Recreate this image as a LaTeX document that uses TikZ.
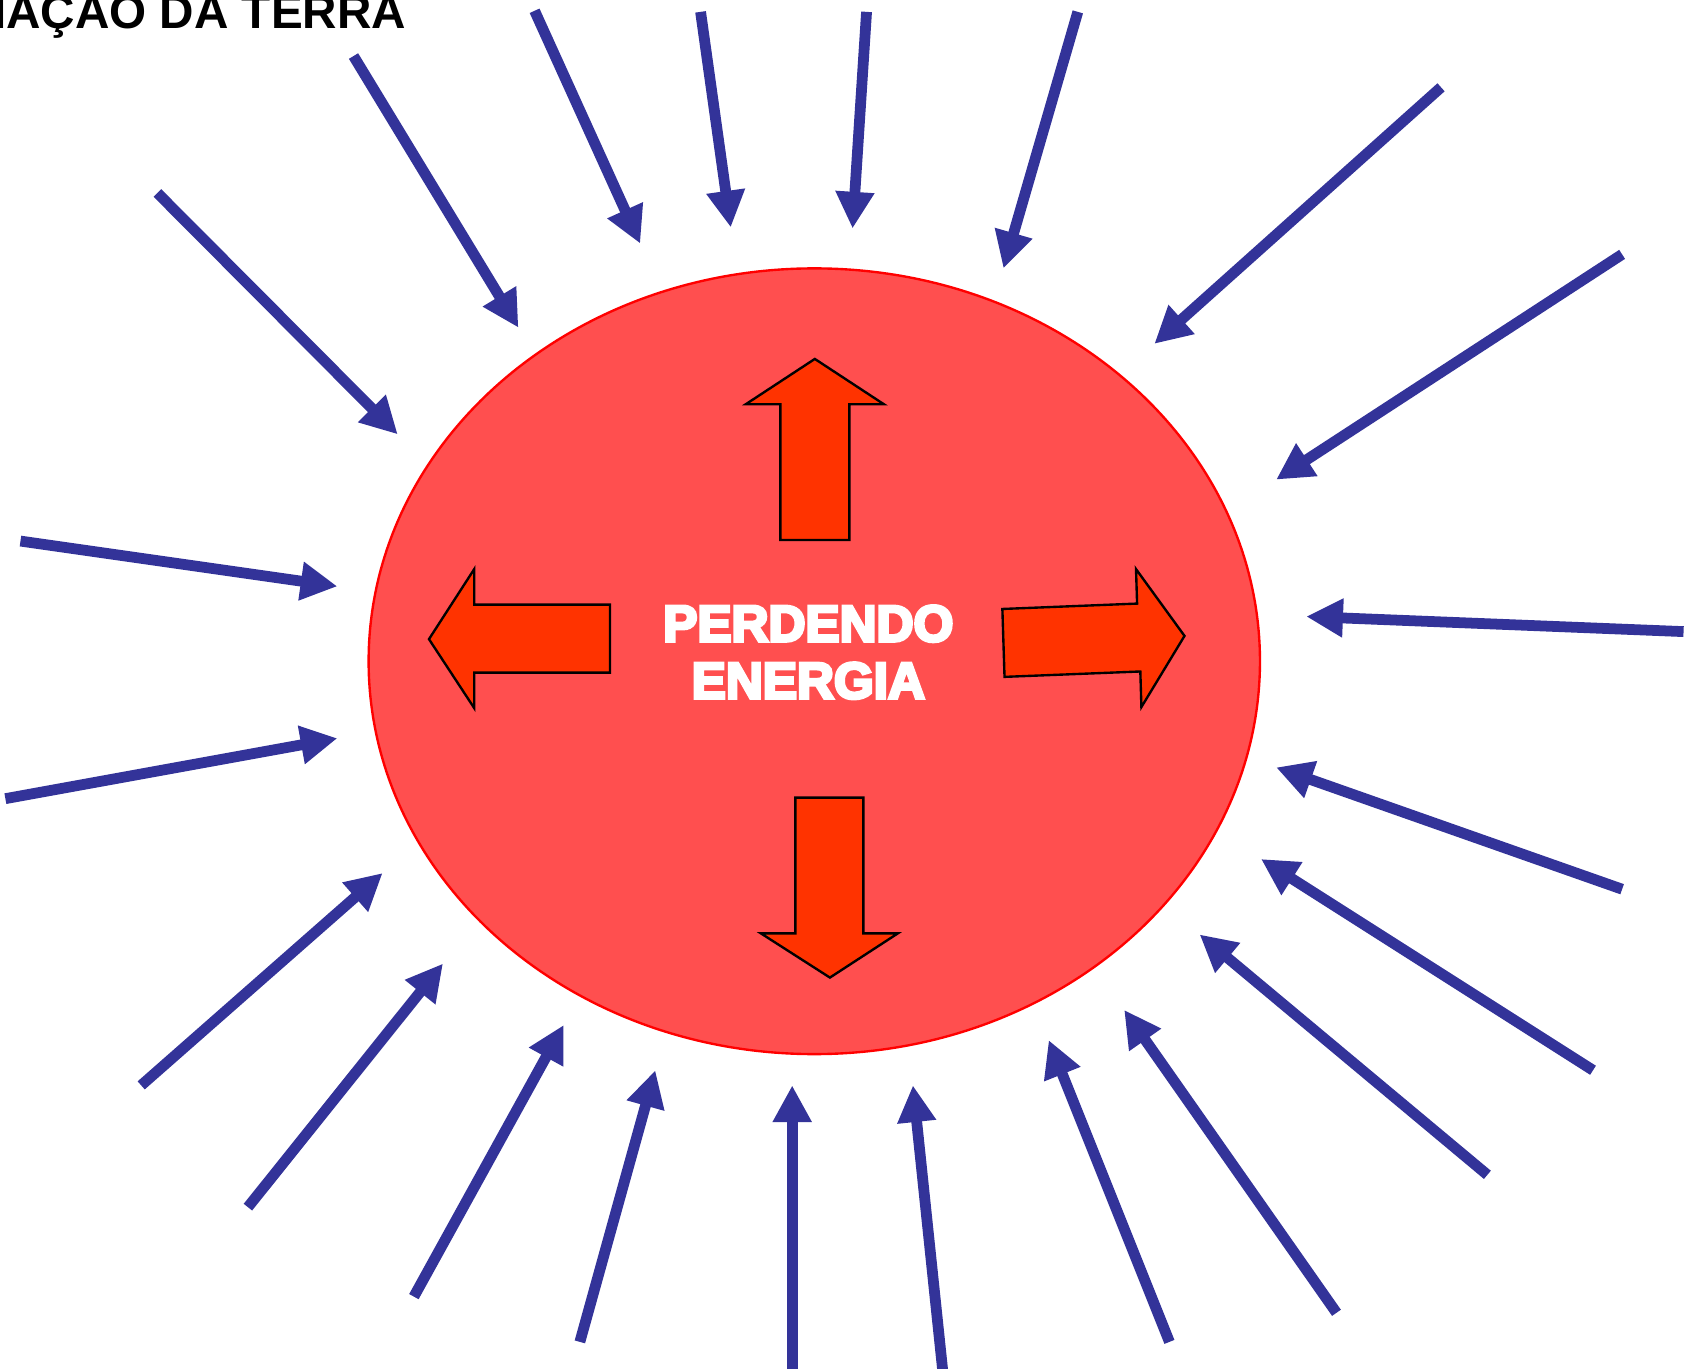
\documentclass[tikz,border=0pt]{standalone}
\usepackage{fontspec}
\setmainfont{Liberation Sans}
\newfontfamily\heavyfont[BoldFeatures={FakeBold=6}]{Liberation Sans}
\usetikzlibrary{arrows.meta,shapes.geometric}
\definecolor{raycol}{HTML}{333399}
\definecolor{earthfill}{HTML}{FF4F4F}
\definecolor{earthline}{HTML}{FF0000}
\definecolor{heatcol}{HTML}{FF3300}
\tikzset{
  ray/.style={draw=raycol, line width=10pt, -{Triangle[length=34pt,width=34pt]}},
  earth/.style={ellipse, draw=earthline, fill=earthfill, line width=2.2pt, inner sep=0pt, minimum width=827pt, minimum height=729pt},
  bigarrow/.style={draw=black, fill=heatcol, line width=2.2pt, line join=miter},
  heat/.style={text=white, inner sep=0pt, anchor=base, font=\heavyfont\bfseries\fontsize{47.5}{53}\selectfont},
  titletext/.style={inner sep=0pt, anchor=base east, font=\bfseries\fontsize{44.2}{50}\selectfont}
}
\begin{document}
\begin{tikzpicture}[x=1pt,y=-1pt]
\useasboundingbox (0,0) rectangle (1568,1270);
\clip (0,0) rectangle (1568,1270);
\fill[white] (0,0) rectangle (1568,1270);
\node[titletext] (title) at (377,26) {IAÇÃO DA TERRA};
\node[earth] (terra) at (755.5,613.5) {};
% outgoing arrows
\draw[bigarrow] (756,333) -- (820,375) -- (788,375) -- (788,501) -- (724,501) -- (724,375) -- (692,375) -- cycle;
\draw[bigarrow] (398,593) -- (440,528) -- (440,561) -- (566,561) -- (566,624) -- (440,624) -- (440,657) -- cycle;
\draw[bigarrow] (930,565) -- (1055,560) -- (1054,528) -- (1099,590) -- (1059,656) -- (1058,623) -- (932,628) -- cycle;
\draw[bigarrow] (770,907) -- (833,866) -- (801,866) -- (801,740) -- (738,740) -- (738,866) -- (706,866) -- cycle;
\node[heat] (t1) at (750,595) {PERDENDO};
\node[heat] (t2) at (750,648) {ENERGIA};
% incoming rays
\draw[ray] (146,179) -- (369,403);
\draw[ray] (328,52) -- (481,304);
\draw[ray] (496,10) -- (594,226);
\draw[ray] (650,11) -- (678,211);
\draw[ray] (804,11) -- (791,212);
\draw[ray] (1000,11) -- (931,249);
\draw[ray] (1337,81) -- (1071,319);
\draw[ray] (1505,236) -- (1184,445);
\draw[ray] (1562,586) -- (1212,572);
\draw[ray] (1505,825) -- (1184,712);
\draw[ray] (1478,993) -- (1170,797);
\draw[ray] (1380,1090) -- (1113,867);
\draw[ray] (1240,1218) -- (1043,937);
\draw[ray] (1085,1245) -- (973,965);
\draw[ray] (875,1275) -- (847,1007);
\draw[ray] (735,1275) -- (735,1007);
\draw[ray] (538,1245) -- (608,993);
\draw[ray] (384,1203) -- (523,951);
\draw[ray] (230,1120) -- (411,894);
\draw[ray] (131,1007) -- (355,810);
\draw[ray] (5,741) -- (313,685);
\draw[ray] (19,502) -- (313,544);
\end{tikzpicture}
\end{document}
